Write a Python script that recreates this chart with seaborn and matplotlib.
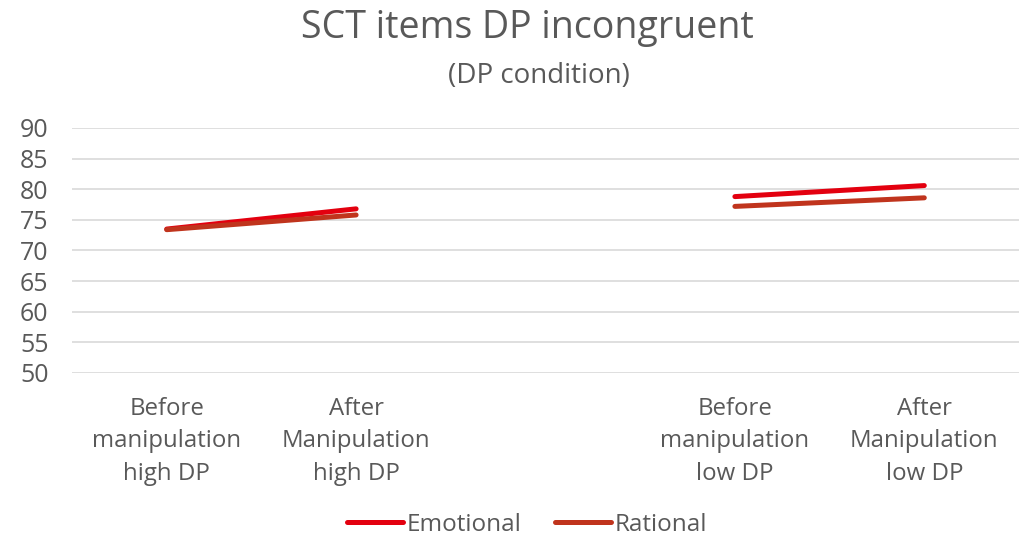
import seaborn as sns
import matplotlib.pyplot as plt
import pandas as pd

# Data
categories = ["Before\nmanipulation\nhigh DP", "After\nManipulation\nhigh DP", "",
              "Before\nmanipulation\nlow DP", "After\nManipulation\nlow DP"]
emotional = [73.5, 76.8, None, 78.8, 80.6]
rational = [73.4, 75.8, None, 77.2, 78.6]
segment = ["high", "high", "gap", "low", "low"]

rows = []
for name, vals in [("Emotional", emotional), ("Rational", rational)]:
    for i, v in enumerate(vals):
        if v is not None:
            rows.append({"pos": i, "score": v, "series": name, "segment": segment[i]})
df = pd.DataFrame(rows)

sns.set_style("white")
plt.rcParams["font.family"] = ["Open Sans", "DejaVu Sans"]
grey = "#595959"

fig = plt.figure(figsize=(10.19, 5.39), dpi=100)
ax = fig.add_axes([72 / 1019, 1 - 373 / 539, (1019 - 72) / 1019, 245 / 539])

sns.lineplot(data=df, x="pos", y="score", hue="series", units="segment",
             estimator=None, palette={"Emotional": "#E3000F", "Rational": "#C0341D"},
             linewidth=3.6, solid_capstyle="round", ax=ax, legend=False)

ax.set_xlim(-0.5, 4.5)
ax.set_ylim(50, 90)
ax.set_yticks(range(50, 91, 5))
ax.set_xticks(range(len(categories)))
ax.set_xticklabels(categories, linespacing=1.47, fontsize=17.3)
ax.yaxis.grid(True, color="#D9D9D9", linewidth=1.2)
ax.set_axisbelow(True)
for s in ax.spines.values():
    s.set_visible(False)
ax.tick_params(axis="y", length=0, labelsize=18, colors=grey, pad=17)
ax.tick_params(axis="x", length=0, colors=grey, pad=17)
ax.set_xlabel("")
ax.set_ylabel("")

fig.text(527 / 1019, 1 - 28 / 539, "SCT items DP incongruent", ha="center", va="center",
         fontsize=27, color=grey)
fig.text(539 / 1019, 1 - 76 / 539, "(DP condition)", ha="center", va="center",
         fontsize=20, color=grey)

handles = [plt.Line2D([], [], color="#E3000F", linewidth=3.6, solid_capstyle="round"),
           plt.Line2D([], [], color="#C0341D", linewidth=3.6, solid_capstyle="round")]
leg = fig.legend(handles, ["Emotional", "Rational"], loc="center",
                 bbox_to_anchor=(527 / 1019, 1 - 525 / 539), ncol=2, frameon=False,
                 fontsize=17.5, handlelength=2.3, handletextpad=0.15, columnspacing=1.4,
                 borderpad=0.2)
for t in leg.get_texts():
    t.set_color(grey)

fig.savefig("out.png", dpi=100)
